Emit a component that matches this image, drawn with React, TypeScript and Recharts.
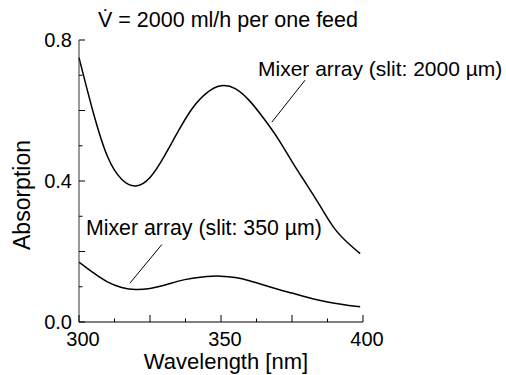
import { LineChart, Line, XAxis, YAxis, ReferenceLine, Customized } from 'recharts';

// wavelength [nm]
const wavelengths = [300, 305, 310, 315, 320, 325, 330, 335, 340, 345, 350, 355, 360, 365, 370, 375, 380, 385, 390, 395, 399];
// absorption, slit 2000 µm
const slit2000 = [0.75, 0.595, 0.47, 0.405, 0.386, 0.41, 0.47, 0.542, 0.607, 0.65, 0.67, 0.662, 0.628, 0.578, 0.521, 0.455, 0.392, 0.328, 0.265, 0.222, 0.194];
// absorption, slit 350 µm
const slit350 = [0.17, 0.14, 0.114, 0.098, 0.092, 0.095, 0.104, 0.116, 0.124, 0.129, 0.13, 0.126, 0.117, 0.105, 0.093, 0.082, 0.071, 0.061, 0.053, 0.047, 0.043];

const xTicks = [300, 312.5, 325, 337.5, 350, 362.5, 375, 387.5, 400];
const xLabels = [300, 350, 400];
const xMajor = [300, 325, 350, 375, 400];
const yTicks = [0, 0.1, 0.2, 0.3, 0.4, 0.5, 0.6, 0.7, 0.8];
const yLabels = [0, 0.4, 0.8];
const yMajor = [0, 0.2, 0.4, 0.6, 0.8];

const data = wavelengths.map((w, i) => ({ w, a: slit2000[i], b: slit350[i] }));

const FONT = '"Liberation Sans", Arial, Helvetica, sans-serif';

const XTick = (props: any) => {
  const { x, y, payload } = props;
  const v = payload.value;
  const len = xMajor.includes(v) ? 7 : 3.5;
  return (
    <g>
      <line x1={x} y1={y} x2={x} y2={y - len} stroke="#000" strokeWidth={1} />
      {xLabels.includes(v) && (
        <text x={x + 4} y={y + 24} textAnchor="middle" fontSize={20} fontFamily={FONT} fill="#000">
          {v}
        </text>
      )}
    </g>
  );
};

const YTick = (props: any) => {
  const { x, y, payload } = props;
  const v = Math.round(payload.value * 10) / 10;
  const len = yMajor.includes(v) ? 6 : 3.5;
  return (
    <g>
      <line x1={x} y1={y} x2={x + len} y2={y} stroke="#000" strokeWidth={1} />
      {yLabels.includes(v) && (
        <text x={x - 7} y={y + 7} textAnchor="end" fontSize={20} fontFamily={FONT} fill="#000">
          {v.toFixed(1)}
        </text>
      )}
    </g>
  );
};

const Annotations = () => (
  <g fontFamily={FONT} fill="#000">
    <text x={98} y={27} fontSize={21.5}>V̇ = 2000 ml/h per one feed</text>
    <text x={258} y={76} fontSize={21}>Mixer array (slit: 2000 µm)</text>
    <text x={86} y={235} fontSize={21.3}>Mixer array (slit: 350 µm)</text>
    <text x={226} y={369} fontSize={22} textAnchor="middle">Wavelength [nm]</text>
    <text x={30} y={195} fontSize={23} textAnchor="middle" transform="rotate(-90 30 195)">Absorption</text>
  </g>
);

export default function App() {
  return (
    <div style={{ position: 'absolute', left: 0, top: 0, width: 506, height: 375, background: '#fff' }}>
      <LineChart width={506} height={375} data={data} margin={{ top: 40, right: 143, bottom: 0, left: 0 }}>
        <XAxis
          dataKey="w"
          type="number"
          domain={[300, 400]}
          ticks={xTicks}
          interval={0}
          height={53}
          tickSize={0}
          tickMargin={0}
          tickLine={false}
          axisLine={{ stroke: '#000', strokeWidth: 1.2 }}
          tick={<XTick />}
        />
        <YAxis
          type="number"
          domain={[0, 0.8]}
          ticks={yTicks}
          interval={0}
          width={79}
          tickSize={0}
          tickMargin={0}
          tickLine={false}
          axisLine={{ stroke: '#333', strokeWidth: 1 }}
          tick={<YTick />}
        />
        <Line type="natural" dataKey="a" stroke="#000" strokeWidth={1.5} dot={false} isAnimationActive={false} />
        <Line type="natural" dataKey="b" stroke="#000" strokeWidth={1.5} dot={false} isAnimationActive={false} />
        <ReferenceLine segment={[{ x: 379.6, y: 0.686 }, { x: 367.9, y: 0.567 }]} stroke="#000" strokeWidth={1} />
        <ReferenceLine segment={[{ x: 329.2, y: 0.22 }, { x: 317.9, y: 0.11 }]} stroke="#000" strokeWidth={1} />
        <Customized component={<Annotations />} />
      </LineChart>
    </div>
  );
}
